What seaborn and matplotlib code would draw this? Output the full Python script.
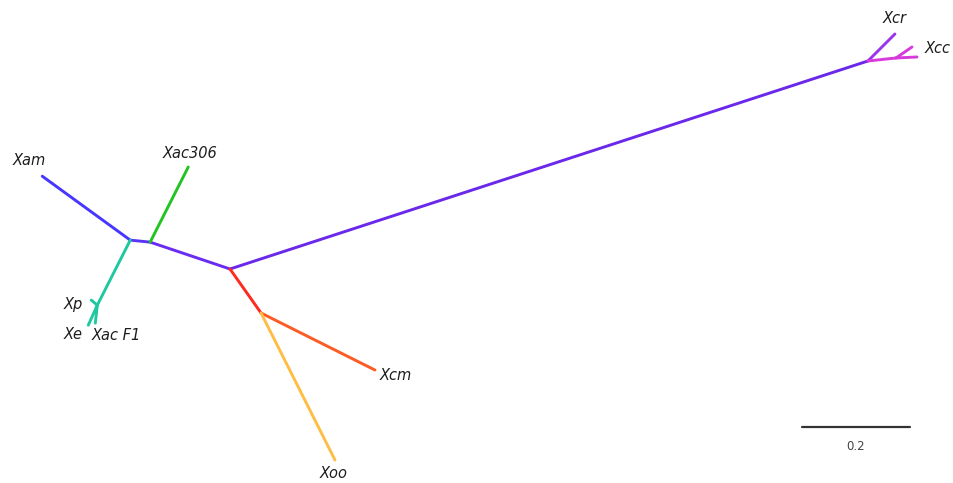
import numpy as np
import pandas as pd
import matplotlib
matplotlib.use("Agg")
import matplotlib.pyplot as plt
import seaborn as sns

# Unrooted Xanthomonas tree: each branch is (parent, child, length, angle in degrees)
parents = ["C", "B", "A", "B", "A", "F", "F", "F", "C", "D", "D", "E", "E", "C", "G", "G"]
children = ["B", "A", "Xam", "Xac306", "F", "Xp", "Xe", "Xac F1",
            "D", "Xcr", "E", "Xcc", "Xcc2", "G", "Xcm", "Xoo"]
lengths = [0.156, 0.037, 0.2015, 0.156, 0.135, 0.0145, 0.0406, 0.0335,
           1.2426, 0.0707, 0.0522, 0.039, 0.036, 0.0997, 0.236, 0.3048]
angles = [161.4, 174.3, 144.0, 63.1, 243.1, 140.0, 245.8, 263.7,
          18.06, 45.0, 6.1, 2.7, 34.5, 305.2, 333.4, 296.7]
branch_colors = ["#6a2cf0", "#5a33f5", "#4636ff", "#22c422", "#1ec8a0", "#1ec8a0",
                 "#1ec8a0", "#1ec8a0", "#6a28ea", "#9a35ee", "#d83adc", "#d83adc",
                 "#d83adc", "#ff2a1e", "#ff5a24", "#ffbd45"]

tip_labels = ["Xam", "Xac306", "Xp", "Xe", "Xac F1", "Xcr", "Xcc", "Xcm", "Xoo"]
label_offsets = [(-9, 11.5), (1.5, 10), (-13, -3), (-11, -7), (15, -9),
                 (0, 11), (15, 6), (15, -4), (-1, -9.5)]
scale_length = 0.2

# Lay out node positions from branch lengths and angles
pos = {"C": np.array([0.0, 0.0])}
for p, c, L, a in zip(parents, children, lengths, angles):
    t = np.deg2rad(a)
    pos[c] = pos[p] + L * np.array([np.cos(t), np.sin(t)])

rows = []
for p, c in zip(parents, children):
    for node in (p, c):
        rows.append({"branch": f"{p}-{c}", "x": pos[node][0], "y": pos[node][1]})
edges = pd.DataFrame(rows)

sns.set_theme(style="white")
plt.rcParams["font.family"] = ["DejaVu Sans"]

W, H, ppu = 954, 483, 540.0
fig = plt.figure(figsize=(W / 100, H / 100), dpi=100)
ax = fig.add_axes([0, 0, 1, 1])

palette = {f"{p}-{c}": col for p, c, col in zip(parents, children, branch_colors)}
sns.lineplot(data=edges, x="x", y="y", hue="branch", units="branch",
             estimator=None, sort=False, palette=palette, linewidth=2.1,
             legend=False, ax=ax, solid_capstyle="round")

for name, off in zip(tip_labels, label_offsets):
    x, y = pos[name]
    ax.annotate(name, (x, y), xytext=off, textcoords="offset points",
                ha="center", va="center", fontsize=10.5, style="italic",
                color="#1e1e1e")

# Root node placed at pixel (230, 269) with 540 px per unit
x0, y0 = 230 / ppu, 269 / ppu
ax.set_xlim(-x0, (W - 230) / ppu)
ax.set_ylim(-(H - 269) / ppu, y0)
ax.set_axis_off()

# Scale bar
sb_x = 802 / ppu - x0
sb_y = y0 - 427 / ppu
ax.plot([sb_x, sb_x + scale_length], [sb_y, sb_y], color="#333333", lw=1.6)
ax.text(sb_x + scale_length / 2, sb_y - 19 / ppu, f"{scale_length}",
        ha="center", va="center", fontsize=8.5, color="#444444")

fig.savefig("out.png", dpi=100, facecolor="white")
